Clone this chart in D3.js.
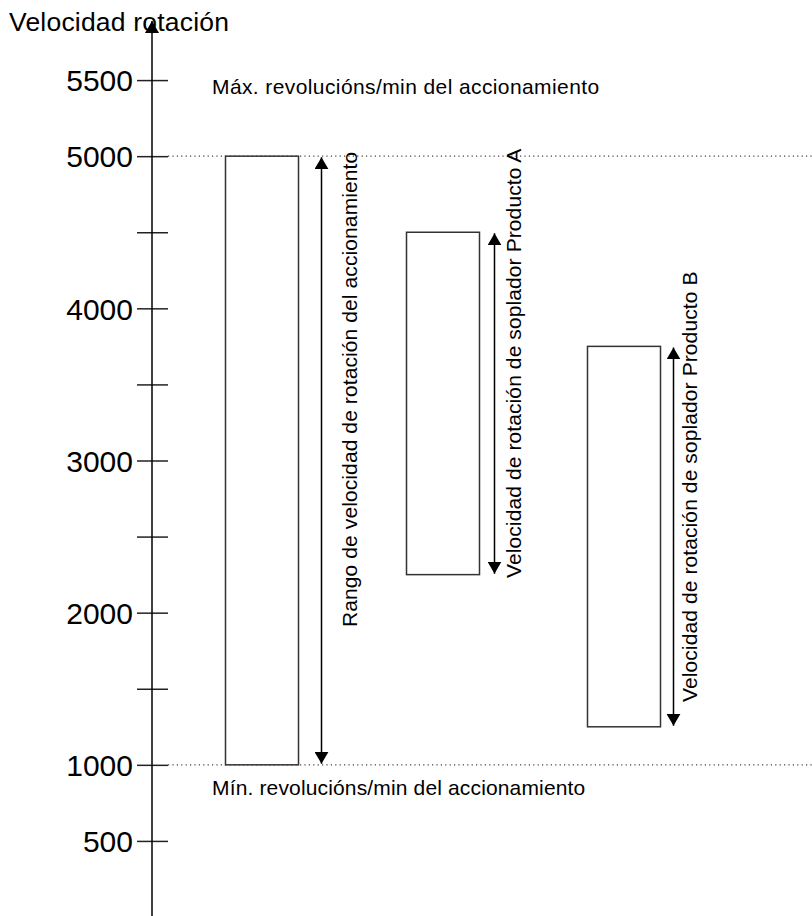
<!DOCTYPE html>
<html>
<head>
<meta charset="utf-8">
<script src="https://cdn.jsdelivr.net/npm/d3@7"></script>
<style>
  body { margin: 0; background: #fff; }
  text { font-family: "Liberation Sans", Arial, sans-serif; fill: #000; }
</style>
</head>
<body>
<div id="chart"></div>
<script>
// Speed ranges (rpm)
const rangeNames = ["Rango de velocidad de rotación del accionamiento",
                    "Velocidad de rotación de soplador Producto A",
                    "Velocidad de rotación de soplador Producto B"];
const rangeMin = [1000, 2250, 1250];
const rangeMax = [5000, 4500, 3750];

// Axis ticks
const tickValues = [500, 1000, 1500, 2000, 2500, 3000, 3500, 4000, 4500, 5000, 5500];
const tickLabels = ["500", "1000", "", "2000", "", "3000", "", "4000", "", "5000", "5500"];

// Limit lines
const limitValues = [5000, 1000];
const limitLabels = ["Máx. revolucións/min del accionamiento", "Mín. revolucións/min del accionamiento"];

const width = 812, height = 916;
const axisX = 152;

const svg = d3.select("#chart")
  .append("svg")
    .attr("width", width)
    .attr("height", height);

// y scale
const y = d3.scaleLinear()
  .domain([0, 6000])
  .range([917, 4]);

// x positions of the bars
const x = d3.scalePoint()
  .domain(rangeNames)
  .range([262, 624]);
const barW = 73;
// gap from bar's right edge to arrow / to label baseline
const arrowGap = [23, 15, 13];
const labelGap = [58, 41, 36];
const labelBottom = [627, 578, 702];

// arrow head marker
const defs = svg.append("defs");
defs.append("marker")
    .attr("id", "head")
    .attr("viewBox", "0 0 12 14")
    .attr("refX", 12).attr("refY", 7)
    .attr("markerWidth", 12).attr("markerHeight", 14)
    .attr("markerUnits", "userSpaceOnUse")
    .attr("orient", "auto-start-reverse")
  .append("path")
    .attr("d", "M0,0 L12,7 L0,14 Z")
    .attr("fill", "#000");

// dotted limit lines
svg.selectAll(".limit")
  .data(limitValues)
  .join("line")
    .attr("x1", axisX + 16)
    .attr("x2", width)
    .attr("y1", d => y(d))
    .attr("y2", d => y(d))
    .attr("stroke", "#444")
    .attr("stroke-width", 1.2)
    .attr("stroke-dasharray", "1.2,3.2");

// limit labels
svg.selectAll(".limitLabel")
  .data(limitValues)
  .join("text")
    .attr("x", 212)
    .attr("y", (d, i) => i === 0 ? y(5500) + 14 : y(d) + 30)
    .style("font-size", "21px")
    .style("letter-spacing", (d, i) => i === 0 ? "0.4px" : "0.15px")
    .text((d, i) => limitLabels[i]);

// axis
const axis = d3.axisLeft(y)
  .tickValues(tickValues)
  .tickFormat((d, i) => tickLabels[i])
  .tickSize(15)
  .tickPadding(4);

const gAxis = svg.append("g")
    .attr("transform", `translate(${axisX},0)`)
    .call(axis);

gAxis.select(".domain").remove();
gAxis.selectAll(".tick line")
    .attr("x1", 16)
    .attr("stroke", "#222")
    .attr("stroke-width", 1.5);
gAxis.selectAll(".tick text")
    .attr("x", -19)
    .attr("dy", "0.36em")
    .style("font-family", "'Liberation Sans', Arial, sans-serif")
    .style("font-size", "30px")
    .attr("fill", "#000");

// vertical axis line with arrow
svg.append("line")
    .attr("x1", axisX).attr("x2", axisX)
    .attr("y1", height).attr("y2", 21)
    .attr("stroke", "#000")
    .attr("stroke-width", 1.5)
    .attr("marker-end", "url(#head)");

// axis title
svg.append("text")
    .attr("x", 9)
    .attr("y", 31)
    .style("font-size", "26.5px")
    .style("letter-spacing", "0.2px")
    .text("Velocidad rotación");

// bars
svg.selectAll(".bar")
  .data(rangeNames)
  .join("rect")
    .attr("class", "bar")
    .attr("x", d => x(d) - barW / 2)
    .attr("y", (d, i) => y(rangeMax[i]))
    .attr("width", barW)
    .attr("height", (d, i) => y(rangeMin[i]) - y(rangeMax[i]))
    .attr("fill", "#fff")
    .attr("stroke", "#333")
    .attr("stroke-width", 1.5);

// double arrows
svg.selectAll(".arrow")
  .data(rangeNames)
  .join("line")
    .attr("x1", (d, i) => x(d) + barW / 2 + arrowGap[i])
    .attr("x2", (d, i) => x(d) + barW / 2 + arrowGap[i])
    .attr("y1", (d, i) => y(rangeMin[i]) - 1)
    .attr("y2", (d, i) => y(rangeMax[i]) + 1)
    .attr("stroke", "#000")
    .attr("stroke-width", 1.5)
    .attr("marker-start", "url(#head)")
    .attr("marker-end", "url(#head)");

// rotated range labels (anchored at their bottom end)
svg.selectAll(".rangeLabel")
  .data(rangeNames)
  .join("text")
    .attr("transform", (d, i) => `translate(${x(d) + barW / 2 + labelGap[i]},${labelBottom[i]}) rotate(-90)`)
    .style("font-size", "21px")
    .style("letter-spacing", "0.1px")
    .text(d => d);
</script>
</body>
</html>
